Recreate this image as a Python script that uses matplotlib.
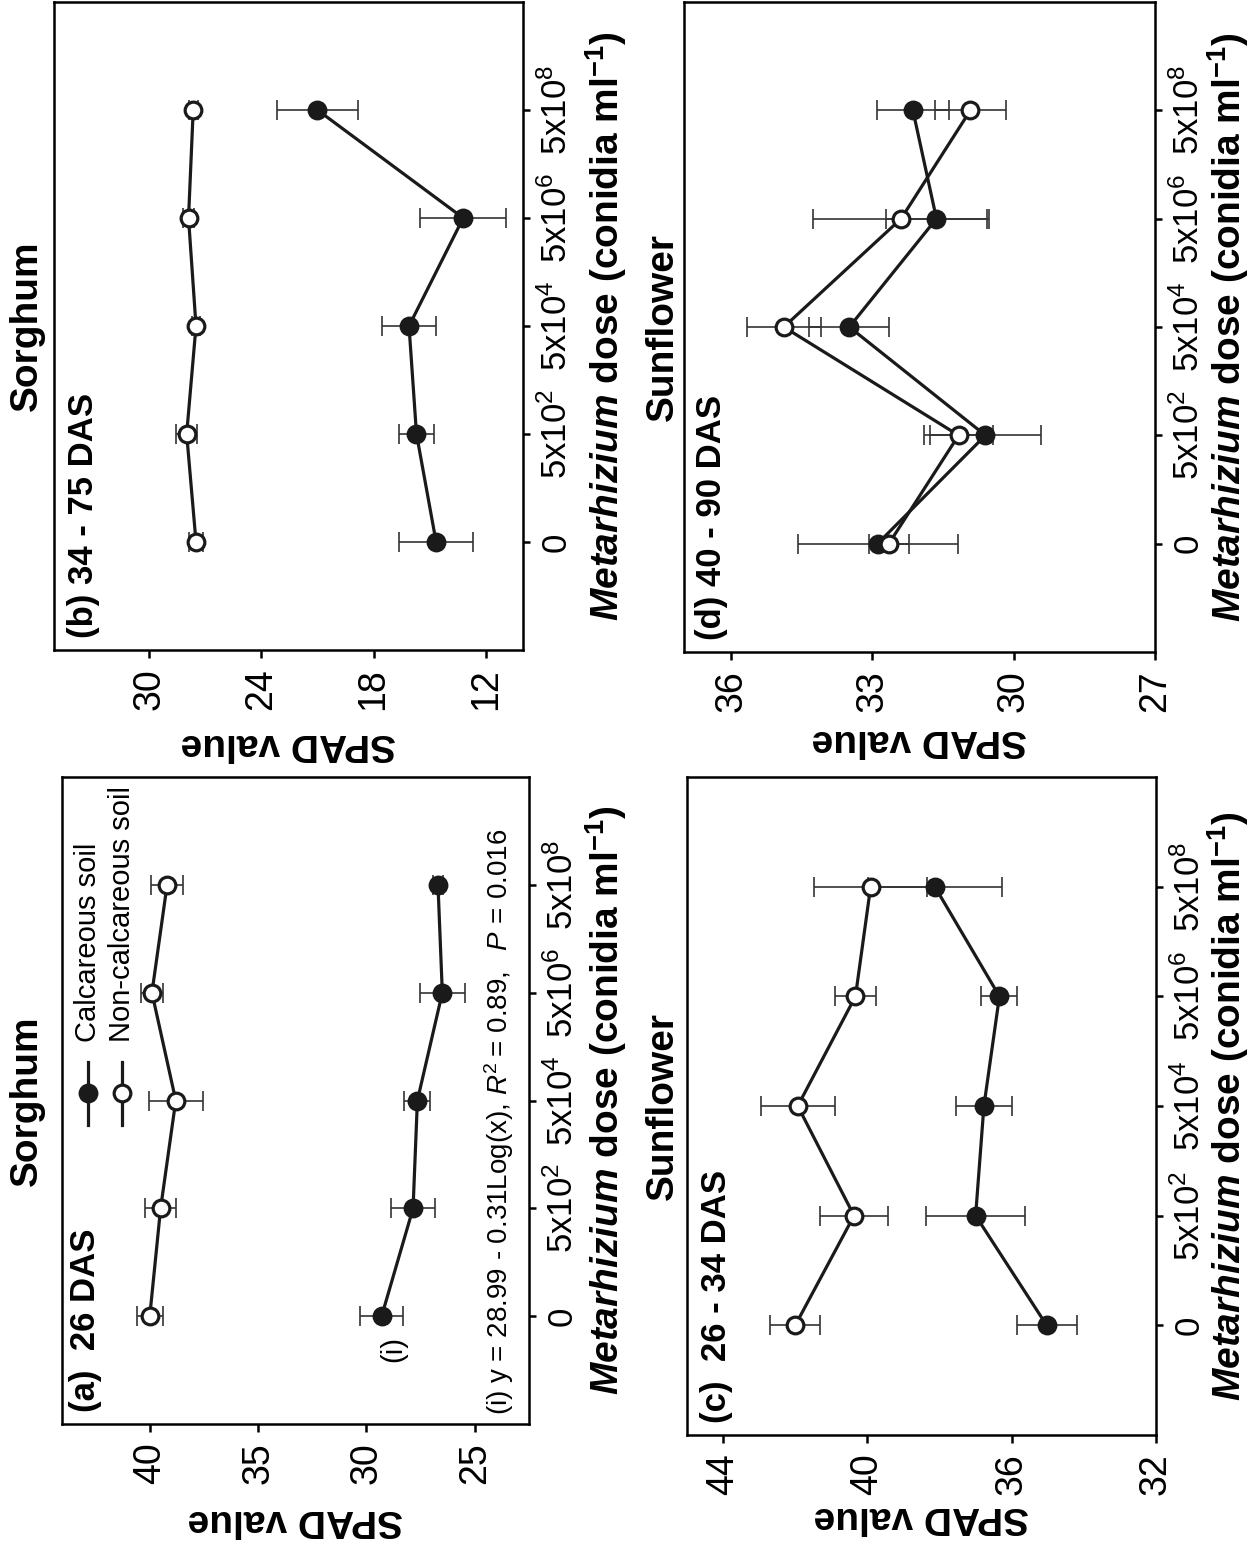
import matplotlib
matplotlib.use('Agg')
import matplotlib.pyplot as plt
import numpy as np
from matplotlib.lines import Line2D

plt.rcParams['font.family'] = ['Liberation Sans', 'DejaVu Sans']
plt.rcParams['mathtext.fontset'] = 'custom'
plt.rcParams['mathtext.rm'] = 'Liberation Sans'
plt.rcParams['mathtext.it'] = 'Liberation Sans:italic'
plt.rcParams['mathtext.bf'] = 'Liberation Sans:bold'
plt.rcParams['mathtext.bfit'] = 'Liberation Sans:bold:italic'

# ---------------- data ----------------
dose_labels = ['0', '5x10$^{2}$', '5x10$^{4}$', '5x10$^{6}$', '5x10$^{8}$']
series_names = ['Calcareous soil', 'Non-calcareous soil']

# (a) Sorghum 26 DAS
a_calc = [29.3, 27.85, 27.65, 26.5, 26.7]
a_calc_err = [1.0, 1.0, 0.6, 1.05, 0.25]
a_non = [40.0, 39.5, 38.8, 39.9, 39.2]
a_non_err = [0.6, 0.7, 1.25, 0.5, 0.75]
a_ticks = [40, 35, 30, 25]

# (b) Sorghum 34 - 75 DAS
b_calc = [14.65, 15.7, 16.1, 13.2, 21.0]
b_calc_err = [2.0, 0.93, 1.42, 2.3, 2.15]
b_non = [27.5, 28.0, 27.5, 27.9, 27.65]
b_non_err = [0.35, 0.55, 0.2, 0.3, 0.25]
b_ticks = [30, 24, 18, 12]

# (c) Sunflower 26 - 34 DAS
c_calc = [35.03, 37.0, 36.77, 36.34, 38.13]
c_calc_err = [0.83, 1.37, 0.77, 0.5, 1.85]
c_non = [42.0, 40.37, 41.93, 40.33, 39.91]
c_non_err = [0.7, 0.94, 1.02, 0.56, 1.56]
c_ticks = [44, 40, 36, 32]

# (d) Sunflower 40 - 90 DAS
d_calc = [32.89, 30.6, 33.49, 31.64, 32.14]
d_calc_err = [1.7, 1.17, 0.85, 1.07, 0.77]
d_non = [32.65, 31.17, 34.88, 32.39, 30.92]
d_non_err = [0.42, 0.74, 0.78, 1.87, 0.76]
d_ticks = [36, 33, 30, 27]

equation = (r"(i) y = 28.99 - 0.31Log(x), $R^2\mathit{=\,0.89,}$  "
            r"$P\mathit{\,=\,0.016}$")

# ---------------- figure ----------------
W, H = 1248, 1550
fig = plt.figure(figsize=(W / 100, H / 100), dpi=100)


def box(x0, y0, x1, y1):
    return [x0 / W, 1 - y1 / H, (x1 - x0) / W, (y1 - y0) / H]


INK = '#1a1a1a'
SPINE_W = 1.8


def panel(rect, calc, calc_err, non, non_err, ticks, xlim, label, label_x,
          xlabel_y, ylabel_x):
    ax = fig.add_axes(rect)
    pos = np.arange(len(dose_labels))
    for vals, errs, face in ((calc, calc_err, INK), (non, non_err, 'white')):
        ax.errorbar(vals, pos, xerr=errs, fmt='none', ecolor='#333333',
                    elinewidth=1.2, capsize=7, capthick=1.2, zorder=2)
        ax.plot(vals, pos, '-', color=INK, lw=2.3, zorder=3)
        ax.plot(vals, pos, 'o', mfc=face, mec=INK, ms=12, mew=2.3, zorder=4)
    ax.set_xlim(*xlim)
    ax.set_ylim(-1, len(dose_labels))
    ax.set_xticks(ticks)
    ax.set_xticklabels([str(t) for t in ticks])
    ax.set_yticks(pos)
    ax.set_yticklabels(dose_labels)
    ax.tick_params(axis='x', direction='out', length=6, width=SPINE_W,
                   labelsize=27, pad=7, labelrotation=90)
    ax.tick_params(axis='y', left=False, right=True, labelleft=False,
                   labelright=True, direction='out', length=5, width=SPINE_W,
                   labelsize=25, pad=7, labelrotation=90)
    for t in ax.get_yticklabels():
        t.set_va('center')
        t.set_ha('left')
    for s in ax.spines.values():
        s.set_linewidth(SPINE_W)
    ax.set_xlabel('SPAD value', fontsize=28, fontweight='bold', rotation=180)
    ax.xaxis.set_label_coords(0.5, xlabel_y)
    ax.xaxis.label.set_va('center')
    ax.yaxis.set_label_position('right')
    ax.set_ylabel(r'$\mathbfit{Metarhizium}$ dose (conidia ml$^{\mathbf{-1}}$)',
                  fontsize=28, fontweight='bold', rotation=90)
    ax.yaxis.set_label_coords(ylabel_x, 0.5)
    ax.yaxis.label.set_va('center')
    ax.yaxis.label.set_ha('center')
    ax.text(label_x, 0.018, label, transform=ax.transAxes, rotation=90,
            rotation_mode='anchor', ha='left', va='center', fontsize=25,
            fontweight='bold')
    return ax


ax_b = panel(box(54, 2, 523, 650), b_calc, b_calc_err, b_non, b_non_err,
             b_ticks, (35.1, 10.0), '(b) 34 - 75 DAS', 0.062, -0.145, 1.178)
ax_a = panel(box(62, 777, 529, 1424), a_calc, a_calc_err, a_non, a_non_err,
             a_ticks, (44.05, 22.5), '(a)  26 DAS', 0.051, -0.148, 1.166)
ax_d = panel(box(684, 2, 1155, 652), d_calc, d_calc_err, d_non, d_non_err,
             d_ticks, (37.0, 27.0), '(d) 40 - 90 DAS', 0.058, -0.135, 1.155)
ax_c = panel(box(687, 777, 1156, 1435), c_calc, c_calc_err, c_non, c_non_err,
             c_ticks, (45.0, 32.0), '(c)  26 - 34 DAS', 0.062, -0.125, 1.153)

# crop titles
for ax, name, xf in ((ax_b, 'Sorghum', 27), (ax_a, 'Sorghum', 27),
                     (ax_d, 'Sunflower', 663), (ax_c, 'Sunflower', 663)):
    p = ax.get_position()
    fig.text(xf / W, p.y0 + p.height / 2, name, rotation=90, ha='center',
             va='center', fontsize=28, fontweight='bold')

# legend in panel (a), drawn rotated like the rest
for xa, face, name in ((0.056, INK, series_names[0]),
                       (0.128, 'white', series_names[1])):
    ax_a.add_line(Line2D([xa, xa], [0.462, 0.56], transform=ax_a.transAxes,
                         color=INK, lw=2.3, zorder=5))
    ax_a.add_line(Line2D([xa], [0.511], transform=ax_a.transAxes, marker='o',
                         mfc=face, mec=INK, ms=12, mew=2.3, zorder=6))
    ax_a.text(xa, 0.59, name, transform=ax_a.transAxes, rotation=90,
              rotation_mode='anchor', ha='left', va='center', fontsize=21)

# regression annotation in panel (a)
ax_a.text(a_calc[0] - 0.55, -0.3, '(i)', rotation=90, ha='center',
          va='center', fontsize=21)
ax_a.text(0.935, 0.014, equation, transform=ax_a.transAxes, rotation=90,
          rotation_mode='anchor', ha='left', va='center', fontsize=20)

fig.savefig('out.png', dpi=100)
